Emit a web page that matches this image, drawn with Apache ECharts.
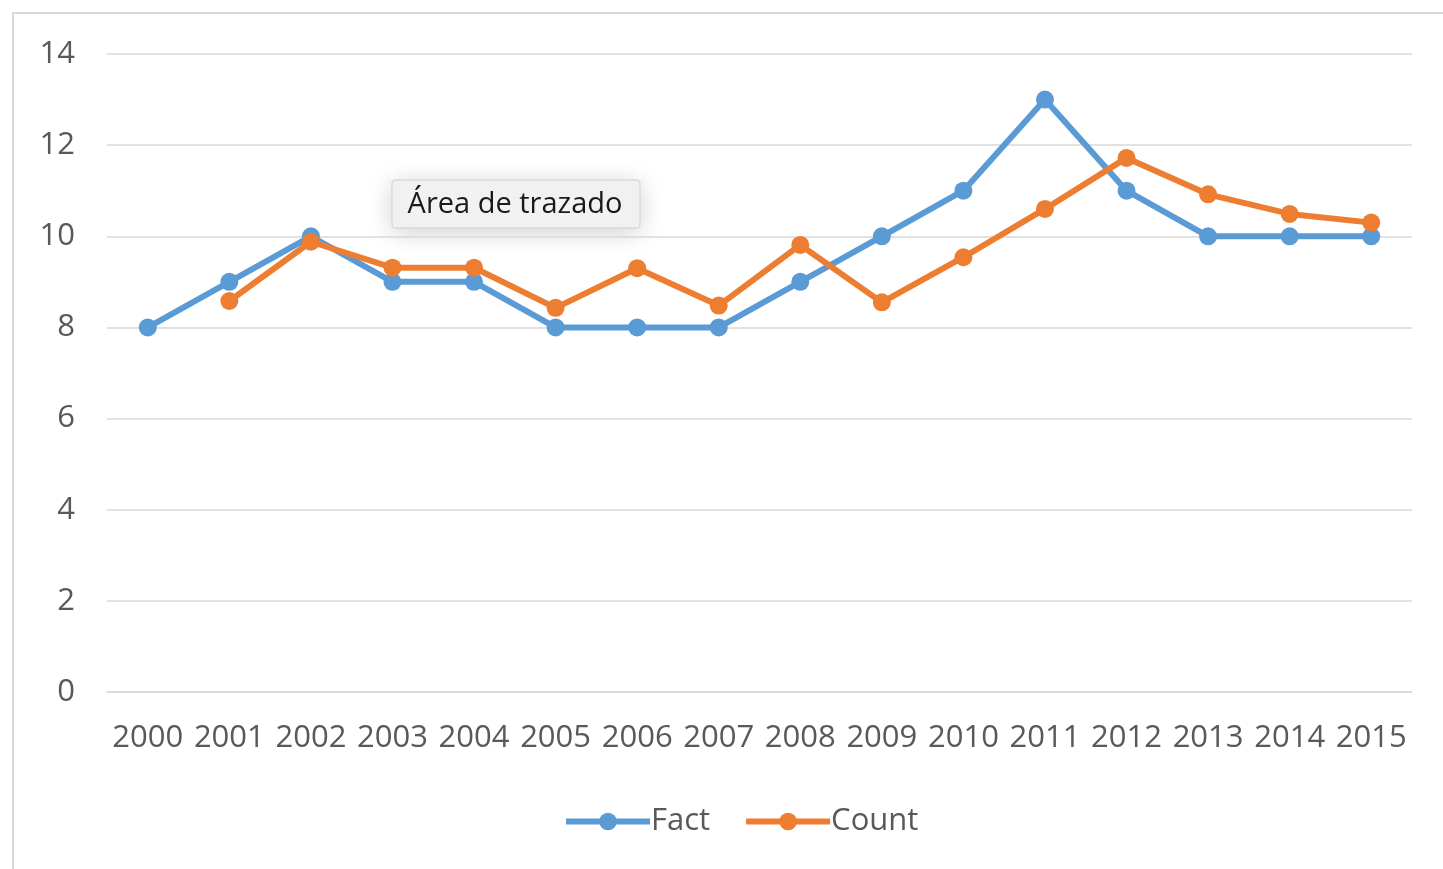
<!DOCTYPE html>
<html>
<head>
<meta charset="utf-8">
<script src="https://cdn.jsdelivr.net/npm/echarts@6/dist/echarts.min.js"></script>
<style>
html,body{margin:0;padding:0;background:#fff;}
#chart{width:1443px;height:869px;}
</style>
</head>
<body>
<div id="chart"></div>
<script>
const years = ['2000','2001','2002','2003','2004','2005','2006','2007','2008','2009','2010','2011','2012','2013','2014','2015'];
const factValues = [8, 9, 10, 9, 9, 8, 8, 8, 9, 10, 11, 13, 11, 10, 10, 10];
const countValues = [null, 8.58, 9.88, 9.31, 9.31, 8.43, 9.30, 8.48, 9.81, 8.55, 9.54, 10.60, 11.72, 10.92, 10.49, 10.30];
const yTicks = { min: 0, max: 14, interval: 2 };
const seriesNames = ['Fact', 'Count'];
const seriesColors = ['#5B9BD5', '#ED7D31'];
const tooltipLabel = 'Área de trazado';

const FONT = '"Open Sans", sans-serif';
const TXT = '#595959';
const GRID = '#d9d9d9';

const chart = echarts.init(document.getElementById('chart'), null, {renderer: 'canvas'});
chart.setOption({
  animation: false,
  backgroundColor: '#ffffff',
  grid: { left: 107, right: 31, top: 54, bottom: 177, containLabel: false },
  legend: {
    data: seriesNames.map((n, i) => ({
      name: n,
      itemStyle: { color: seriesColors[i] },
      lineStyle: { color: seriesColors[i], width: 6 }
    })),
    left: 558,
    top: 801,
    itemWidth: 84,
    itemHeight: 22,
    itemGap: 33,
    textStyle: { fontFamily: FONT, fontSize: 31, color: TXT, padding: [0,0,0,-4] }
  },
  xAxis: {
    type: 'category',
    data: years,
    boundaryGap: true,
    axisLine: { show: true, lineStyle: { color: GRID, width: 1.5 } },
    axisTick: { show: false },
    axisLabel: { fontFamily: FONT, fontSize: 31, color: TXT, margin: 31, interval: 0 },
    splitLine: { show: false }
  },
  yAxis: {
    type: 'value',
    min: yTicks.min,
    max: yTicks.max,
    interval: yTicks.interval,
    axisLine: { show: false },
    axisTick: { show: false },
    axisLabel: { fontFamily: FONT, fontSize: 31, color: TXT, margin: 32 },
    splitLine: { show: true, lineStyle: { color: GRID, width: 1.5 } }
  },
  series: [
    {
      name: seriesNames[0],
      type: 'line',
      data: factValues,
      symbol: 'circle',
      symbolSize: 18,
      color: seriesColors[0],
      lineStyle: { width: 6, color: seriesColors[0] },
      itemStyle: { color: seriesColors[0] }
    },
    {
      name: seriesNames[1],
      type: 'line',
      data: countValues,
      symbol: 'circle',
      symbolSize: 18,
      color: seriesColors[1],
      lineStyle: { width: 6, color: seriesColors[1] },
      itemStyle: { color: seriesColors[1] }
    }
  ],
  graphic: [
    {
      type: 'rect',
      silent: true,
      shape: { x: 13, y: 13, width: 1600, height: 1000 },
      style: { fill: 'none', stroke: GRID, lineWidth: 2 },
      z: 0
    },
    {
      type: 'group',
      z: 100,
      children: [
        {
          type: 'rect',
          shape: { x: 392, y: 180, width: 248, height: 48, r: 3 },
          style: {
            fill: '#f2f2f2', stroke: '#cfcfcf', lineWidth: 1,
            shadowBlur: 24, shadowColor: 'rgba(0,0,0,0.18)', shadowOffsetY: 4
          }
        },
        {
          type: 'text',
          style: {
            x: 515, y: 205, text: tooltipLabel,
            fontFamily: FONT, fontSize: 29, fill: '#1a1a1a',
            align: 'center', verticalAlign: 'middle'
          }
        }
      ]
    }
  ]
});
</script>
</body>
</html>
